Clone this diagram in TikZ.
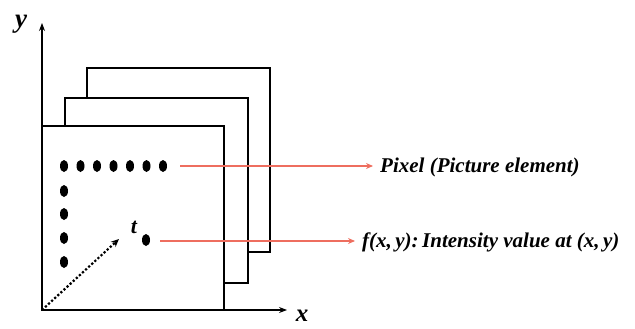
\documentclass[tikz,border=0pt]{standalone}
\usepackage{fontspec}
\setmainfont{Liberation Serif}
\usetikzlibrary{arrows.meta,shapes.geometric}
\definecolor{redline}{RGB}{238,110,95}
\begin{document}
\begin{tikzpicture}[x=1pt,y=-1pt,
  frame/.style={draw=black,line width=1.2pt,fill=white},
  pix/.style={fill=black,ellipse,inner sep=0pt,minimum width=8pt,minimum height=12pt},
  axis/.style={line width=1.1pt,-{Stealth[length=8pt,width=6pt]}},
  lab/.style={font=\bfseries\itshape\fontsize{21}{23}\selectfont,inner sep=0pt,anchor=west},
  redarrow/.style={draw=redline,line width=1.3pt,-{Stealth[length=7pt,width=6pt]}}]
\useasboundingbox (0,0) rectangle (635,329);
% back frames
\draw[frame] (87,252) -- (270,252) -- (270,68) -- (87,68) -- cycle;
\draw[frame] (65,283) -- (248,283) -- (248,98) -- (65,98) -- cycle;
\draw[frame] (42,310) -- (224,310) -- (224,126) -- (42,126) -- cycle;
% axes
\coordinate (O) at (42,310);
\coordinate (Ytip) at (42,23);
\coordinate (Xtip) at (287,310);
\draw[axis] (O) -- (Ytip);
\draw[axis] (O) -- (Xtip);
\node[font=\bfseries\itshape\fontsize{27}{29}\selectfont,inner sep=0pt] (ylab) at (21,24) {y};
\node[font=\bfseries\itshape\fontsize{25}{27}\selectfont,inner sep=0pt] (xlab) at (302,316) {x};
% dots
\foreach \i in {0,...,6} {
  \node[pix] (d\i) at (64+16.5*\i,166) {};
}
\node[pix] (v1) at (64,191) {};
\node[pix] (v2) at (64,214) {};
\node[pix] (v3) at (64,238) {};
\node[pix] (v4) at (64,262) {};
\node[pix] (tp) at (146,240) {};
\node[font=\bfseries\itshape\fontsize{22}{24}\selectfont,inner sep=0pt] (tlab) at (134,227) {t};
% dotted arrow
\coordinate (Dend) at (119,239);
\draw[line width=2.2pt,dotted,-{Stealth[length=8pt,width=7pt]}] (O) -- (Dend);
% labels
\node[lab] (pixel) at (380,167) {Pixel (Picture element)};
\node[lab] (fxy) at (362,242) {f(x,\,y):\,Intensity value at (x,\,y)};
\coordinate (r1) at (180,166);
\coordinate (r2) at (160,241);
\draw[redarrow] (r1) -- ([xshift=-7pt]pixel.west |- r1);
\draw[redarrow] (r2) -- ([xshift=-7pt]fxy.west |- r2);
\end{tikzpicture}
\end{document}
